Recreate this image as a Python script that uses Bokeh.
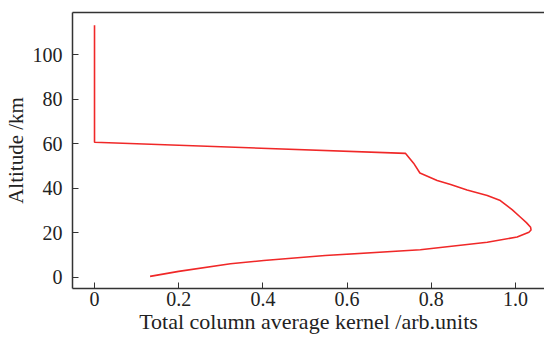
from bokeh.plotting import figure
from bokeh.models import LinearAxis, FixedTicker, Range1d
from bokeh.embed import file_html
from bokeh.resources import INLINE

# Total column averaging kernel vs altitude
kernel = [0.0, 0.0, 0.739, 0.758, 0.773, 0.814, 0.846, 0.885, 0.933, 0.964, 0.992,
          1.012, 1.026, 1.036, 1.037, 1.032, 1.004, 0.933, 0.774, 0.548, 0.402,
          0.323, 0.200, 0.132]
altitude = [113.3, 60.7, 55.7, 51.3, 46.9, 43.5, 41.7, 39.3, 36.8, 34.5, 30.4,
            27.0, 24.6, 22.5, 21.3, 20.3, 18.1, 15.8, 12.4, 9.8, 7.6,
            6.1, 2.7, 0.45]

x_ticks = [0, 0.2, 0.4, 0.6, 0.8, 1.0]
x_tick_labels = ["0", "0.2", "0.4", "0.6", "0.8", "1.0"]
y_ticks = [0, 20, 40, 60, 80, 100]

FONT = "Liberation Serif"
TXT = "#222222"
AX = "#333333"

p = figure(width=544, height=340, output_backend="svg", toolbar_location=None,
           x_range=Range1d(-0.0523, 1.069), y_range=Range1d(-5, 119),
           min_border_left=72, min_border_right=0, min_border_top=12, min_border_bottom=52)
p.outline_line_color = None
p.grid.visible = False
p.background_fill_color = "white"
p.border_fill_color = "white"

p.line(kernel, altitude, line_color="#f02828", line_width=1.6)

for ax, ticks in ((p.xaxis[0], x_ticks), (p.yaxis[0], y_ticks)):
    ax.ticker = FixedTicker(ticks=ticks)
    ax.major_tick_in = 6
    ax.major_tick_out = 0
    ax.minor_tick_line_color = None
    ax.major_tick_line_color = AX
    ax.axis_line_color = AX
    ax.axis_line_width = 1.5
    ax.major_label_text_font = FONT
    ax.major_label_text_font_size = "20px"
    ax.major_label_text_color = TXT
    ax.axis_label_text_font = FONT
    ax.axis_label_text_font_size = "21px"
    ax.axis_label_text_font_style = "normal"
    ax.axis_label_text_color = TXT

p.xaxis[0].major_label_overrides = {t: l for t, l in zip(x_ticks, x_tick_labels)}
p.xaxis[0].axis_label = "Total column average kernel /arb.units"
p.xaxis[0].axis_label_text_font_size = "22px"
p.xaxis[0].major_label_standoff = 3
p.xaxis[0].axis_label_standoff = 0
p.yaxis[0].axis_label = "Altitude /km"
p.yaxis[0].major_label_standoff = 10
p.yaxis[0].axis_label_standoff = 2

top = LinearAxis(ticker=FixedTicker(ticks=[]), major_tick_line_color=None,
                 minor_tick_line_color=None, axis_line_color=AX, axis_line_width=1.5)
p.add_layout(top, "above")

open("out.html", "w").write(file_html(p, INLINE))
